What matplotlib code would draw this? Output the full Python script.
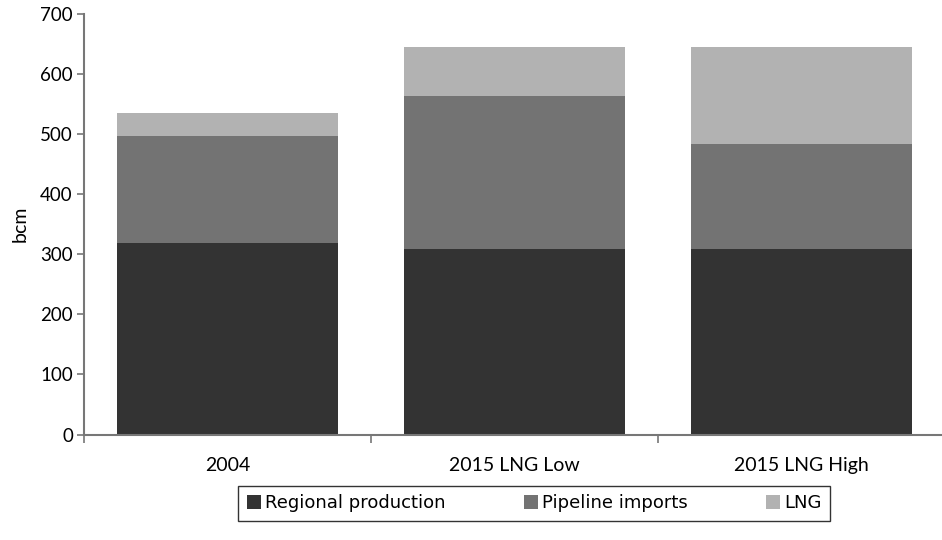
import matplotlib.pyplot as plt
from matplotlib import patches
import numpy as np

categories = ["2004", "2015 LNG Low", "2015 LNG High"]
regional = [319, 309, 309]
pipeline = [178, 254, 175]
lng = [38, 82, 161]

series = [
    ("Regional production", regional, "#333333"),
    ("Pipeline imports", pipeline, "#737373"),
    ("LNG", lng, "#b2b2b2"),
]

plt.rcParams["font.family"] = ["Lato", "DejaVu Sans"]

fig = plt.figure(figsize=(9.42, 5.40), dpi=100)
ax = fig.add_axes([84 / 942, 1 - 434.5 / 540, 861 / 942, 420.75 / 540])

x = np.arange(len(categories))
bottom = np.zeros(len(categories))
handles = []
for label, values, color in series:
    ax.bar(x, values, width=0.77, bottom=bottom, color=color, linewidth=0)
    bottom += values
    handles.append(patches.Patch(facecolor=color, label=label))

ax.set_xlim(-0.5, len(categories) - 0.5)
ax.set_ylim(0, 700)
ax.set_yticks(range(0, 701, 100))
ax.tick_params(axis="y", labelsize=13.5, length=5, width=1.2, color="#777777", pad=3)

# category labels sit between the boundary ticks
ax.set_xticks(np.arange(len(categories) + 1) - 0.5)
ax.set_xticklabels([])
ax.set_xticks(x, minor=True)
ax.set_xticklabels(categories, minor=True, fontsize=14)
ax.tick_params(axis="x", which="major", length=6, width=1.2, color="#777777")
ax.tick_params(axis="x", which="minor", length=0, pad=16)

for side in ("top", "right"):
    ax.spines[side].set_visible(False)
for side in ("left", "bottom"):
    ax.spines[side].set_color("#777777")
    ax.spines[side].set_linewidth(1.5)

ax.set_ylabel("bcm", fontsize=14, labelpad=8)

leg = fig.legend(
    handles=handles,
    loc="center",
    bbox_to_anchor=(534 / 942, 1 - 503.5 / 540),
    ncol=3,
    frameon=True,
    fancybox=False,
    edgecolor="black",
    handlelength=0.8,
    handleheight=0.8,
    handletextpad=0.2,
    columnspacing=4.35,
    borderpad=0.45,
    prop={"family": ["Liberation Sans Narrow", "DejaVu Sans"], "size": 13},
)
leg.get_frame().set_linewidth(1.0)

fig.savefig("out.png", dpi=100)
